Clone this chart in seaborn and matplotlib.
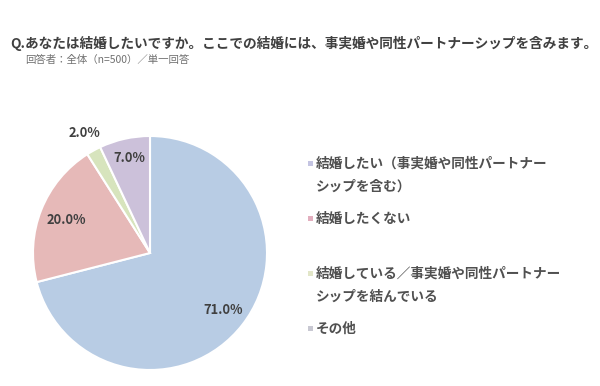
import numpy as np
import matplotlib
matplotlib.use("Agg")
import matplotlib.pyplot as plt
import seaborn as sns
from matplotlib.patches import Rectangle

sns.set_theme(style="white")
plt.rcParams['font.family'] = ['Noto Sans CJK JP', 'DejaVu Sans']

categories = ["結婚したい（事実婚や同性パートナー\nシップを含む）",
              "結婚したくない",
              "結婚している／事実婚や同性パートナー\nシップを結んでいる",
              "その他"]
values = [71.0, 20.0, 2.0, 7.0]
pie_colors = ["#B8CCE4", "#E6B9B8", "#D7E4BD", "#CCC1DA"]
legend_colors = ["#C4C4E2", "#E2AEBE", "#E2E6C8", "#C8C8D2"]
label_dist = [0.79, 0.77, 1.17, 0.83]

W, H = 600, 386
fig = plt.figure(figsize=(6, 3.86), dpi=100)
cx, cy, r = 150, 253, 117
ax = fig.add_axes([(cx - r) / W, (H - cy - r) / H, 2 * r / W, 2 * r / H])

wedges, _ = ax.pie(values, colors=pie_colors, startangle=90, counterclock=False,
                   wedgeprops=dict(edgecolor="white", linewidth=1.5))
ax.set_xlim(-1, 1)
ax.set_ylim(-1, 1)
ax.set_aspect("equal")
ax.axis("off")

for w, v, d in zip(wedges, values, label_dist):
    ang = np.deg2rad((w.theta1 + w.theta2) / 2)
    ax.text(d * np.cos(ang), d * np.sin(ang), f"{v:.1f}%", ha="center", va="center",
            fontsize=9.3, fontweight="bold", color="#404040")

fig.text(10 / W, 1 - 43 / H,
         "Q.あなたは結婚したいですか。ここでの結婚には、事実婚や同性パートナーシップを含みます。",
         fontsize=9.85, fontweight="bold", color="#404040", va="center", ha="left")
fig.text(25 / W, 1 - 60 / H, "回答者：全体（n=500）／単一回答",
         fontsize=7.5, color="#707070", va="center", ha="left")

legend_y = [163, 218, 273, 328]
for c, lab, y in zip(legend_colors, categories, legend_y):
    fig.patches.append(Rectangle((308 / W, 1 - (y + 3) / H), 5 / W, 5 / H,
                                 transform=fig.transFigure, facecolor=c, edgecolor="none"))
    fig.text(316 / W, 1 - (y - 6.5) / H, lab, fontsize=9.8, fontweight="bold",
             color="#505050", va="top", ha="left", linespacing=1.85)

fig.savefig("out.png", dpi=100, facecolor="white")
